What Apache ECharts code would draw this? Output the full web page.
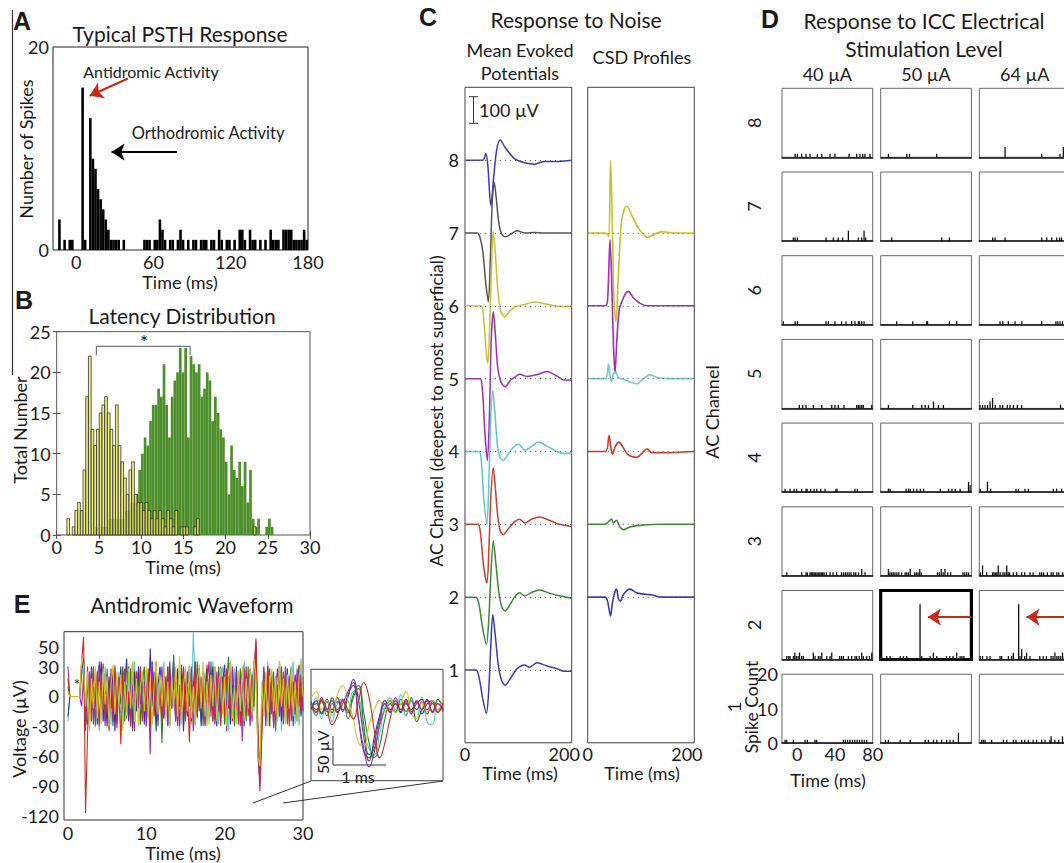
<!DOCTYPE html>
<html><head><meta charset="utf-8">
<script src="https://cdn.jsdelivr.net/npm/echarts@6/dist/echarts.min.js"></script>
<style>html,body{margin:0;padding:0;background:#fff}#c{width:1064px;height:863px}</style>
</head><body><div id="c"></div>
<script>
// ---------------- DATA ----------------
// Panel A: PSTH (2 ms bins starting at -16 ms)
const psthStart = -16, psthBin = 2;
const psthCounts = [
0,3,0,1,0,1,1,0,0,0,
16,1,0,13,9,8,6,5,4,3,
2,1,1,1,1,0,1,0,0,0,
0,0,0,0,1,1,1,0,1,1,
3,2,1,0,1,1,0,1,2,1,
0,1,0,1,1,0,1,1,1,0,
1,1,0,2,1,0,1,1,0,1,
0,2,2,1,0,2,1,1,0,1,
0,1,0,2,1,1,1,0,2,2,
2,2,1,1,1,1,2,1];
const psthTicks = [0, 60, 120, 180];

// Panel B: latency distributions (0.32 ms bins)
const latBin = 0.32;
const antiStart = 1.2;
const antiCounts = [
2,0,1,3,4,3,8,17,22,13,
11,13,15,16,17,15,13,11,16,11,
9,7,5,8,9,5,4,4,3,4,
3,2,3,2,3,2,1,3,2,1,
3,0,1,1,1,0,0,1,2,0,
0,0,0,0,0,0,0,0,0,0,
0,0,0,0,0,0,0,0,0,1];
const orthoStart = 4.55;
const orthoCounts = [
1,0,1,1,1,2,2,2,2,2,2,3,3,4,4,5,
8,10,12,11,14,16,16,18,17,21,16,12,17,19,20,23,20,23,12,22,
21,20,21,17,18,20,19,14,17,15,13,12,9,5,11,8,7,9,6,9,
4,8,2,1,2,0,0,1,2,1];
const latBracket = [[4.7, 22.1], [4.7, 23.2], [15.8, 23.2], [15.8, 22.1]];

// Panel E: antidromic waveforms (0.25 ms samples, µV)
const eStep = 0.25;
const eTicksY = [-120, -90, -60, -30, 0, 30, 50];
const eRed = [
18,0,0,0,0,0,0,35,60,-117,
-40,20,-25,30,-10,25,-30,15,33,-20,
10,-35,22,-15,30,-28,12,-48,20,28,
-22,5,-30,35,-18,25,-12,30,-25,10,
-5,28,-32,18,-20,35,-15,8,-25,20,
-10,30,-22,15,-8,25,-30,12,-18,30,
-25,10,-46,20,-12,35,-20,25,-15,10,
-28,32,-10,18,-25,30,-5,20,-30,15,
-20,28,-12,35,-25,10,-18,25,-30,22,
-10,30,-20,15,-25,20,55,-30,-90,-40,
25,-15,30,-10,20,-28,15,-22,30,-12,
25,-20,10,-30,28,-15,20,-10,25,-18,
15];
const eBlue = [
-20,0,0,0,0,0,0,25,38,-30,
15,-20,30,-15,22,-28,10,35,-25,5,
-30,20,-12,28,-35,15,-5,30,-20,12,
38,-25,10,-32,25,-15,30,-8,20,-28,
15,-20,48,-10,25,-35,12,30,-15,-22,
20,-30,35,-12,18,-25,28,-10,22,-35,
15,-20,30,-25,10,35,-18,20,-30,12,
-15,28,-22,10,30,-12,-30,25,-20,15,
32,-18,20,-28,12,-10,30,-22,15,25,
-30,18,-12,28,-20,35,40,-60,-85,-20,
30,-22,12,-30,25,-10,20,-15,35,-25,
10,-20,28,-12,18,-30,22,-8,30,-20,
10];
const eGreen = [
10,0,0,0,0,0,0,30,35,-20,
-28,25,-15,10,-30,20,32,-18,12,-25,
28,-10,18,-30,25,-20,15,-8,30,-25,
12,-18,28,-35,20,-10,25,-28,15,30,
-20,10,-25,35,-12,22,-30,18,-47,20,
-15,30,-25,12,42,-20,25,-10,32,-28,
18,-12,30,-22,10,-28,35,-15,20,-30,
12,28,-18,35,-25,15,-10,30,-22,20,
-28,12,40,-15,25,-30,18,-12,28,-20,
15,-25,30,-18,22,-10,50,-45,-80,-15,
20,-30,15,28,-18,25,-35,12,-20,30,
-12,22,-28,15,30,-20,10,-25,32,-15,
20];
const eCyan = [
-25,0,0,0,0,0,0,20,30,-15,
22,-30,12,28,-18,25,-35,15,-10,30,
-22,18,-28,10,32,-15,25,-30,20,-8,
28,-20,15,-25,35,-12,20,-28,10,25,
-30,18,-12,30,-20,15,-25,28,-10,35,
-18,22,-30,12,28,-22,18,-35,25,-15,
30,-12,20,-28,65,15,-20,32,-25,10,
25,-30,18,-15,35,-22,12,-28,20,30,
-15,25,-35,18,-10,28,-22,15,-30,20,
35,-18,12,-28,25,-15,45,-40,-75,-10,
28,-20,35,-12,22,-30,15,-25,30,-35,
20,-15,28,-22,12,35,-28,18,-30,38,
-20];
const ePurple = [
30,0,0,0,0,0,0,-10,20,-35,
30,-15,25,-28,12,-20,35,-10,18,-30,
22,-12,28,-25,15,-32,20,10,-28,25,
-15,30,-20,12,-35,25,-10,28,-18,15,
-30,20,-58,35,-15,25,-22,10,30,-20,
15,-28,22,-12,35,-25,18,-30,12,28,
-18,25,-10,30,-35,15,-22,28,-12,20,
-30,12,35,-20,18,-28,25,-15,30,-10,
22,-35,15,-20,30,-12,25,-28,18,-45,
28,-15,20,-30,12,25,58,-50,-95,-30,
18,-25,30,-15,22,-32,10,28,-20,15,
-28,30,-12,20,-25,15,-18,28,-10,22,
-15];
const eYellow = [
5,0,0,0,0,0,0,38,30,-10,
25,-35,18,-12,30,-22,15,-28,28,-8,
20,-30,12,32,-18,25,-10,22,-35,15,
-20,28,-12,35,-25,18,-30,10,25,-15,
30,-22,15,-28,12,35,-18,22,-10,28,
-25,15,-32,20,-12,30,-20,40,-28,12,
25,-15,30,-22,10,-30,18,28,-12,35,
-20,15,-28,22,-10,30,-25,12,28,-18,
20,-30,15,35,-22,10,-28,25,-15,30,
-25,18,-12,28,-20,38,20,-60,-70,15,
-20,25,-30,12,28,-15,20,-25,35,-10,
18,-28,22,-12,30,-20,15,-25,20,35,
0];
// Inset (0.1 ms samples, µV)
const insetStep = 0.1;
const insRed    = [5,-8,12,-5,-30,-15,10,-5,-20,10,40,15,-40,-85,-60,-20,5,-5,10,-8,5,12,-5,8,-10,5];
const insBlue   = [-5,10,-12,8,-10,15,-8,20,35,-20,-75,-85,-50,-15,10,-8,5,-10,12,-5,8,-12,5,10,-5,8];
const insGreen  = [10,-5,8,-15,5,-10,12,-20,15,30,-30,-80,-70,-30,-5,10,-10,5,-8,15,-25,-5,10,-8,12,-5];
const insCyan   = [-12,15,-20,10,-25,5,12,-8,25,20,-40,-70,-80,-45,0,15,-5,20,-15,10,-20,15,-25,-30,10,5];
const insPurple = [8,-10,15,-5,10,-8,5,25,40,-20,-70,-100,-75,-30,5,-10,15,-5,8,-12,10,-5,12,-10,5,-8];
const insYellow = [15,25,-5,10,-15,20,35,10,-20,-60,-65,-30,-5,10,-8,15,-10,5,25,-10,-20,5,-8,10,-5,12];
const insGray   = [0,5,-10,12,-5,8,-5,15,45,10,-50,-90,-60,-20,5,-5,10,-8,5,-10,8,-5,10,-8,5,-5];
const insGreen2 = [5,-15,10,-8,15,-5,10,-10,20,35,-10,-60,-85,-65,-20,5,-8,12,-15,10,-5,8,-12,5,-8,10];

// Panel C: mean evoked potentials and CSD ([ms, µV])
const uvPerChannel = 272.5;
const channels = [1,2,3,4,5,6,7,8];
const mep8 = [[0,0],[36,0],[42,25],[46,-20],[52,-170],[58,-60],[64,40],[71,75],[80,50],[90,25],[100,5],[120,-10],[140,-15],[160,-5],[180,-5],[200,-3],[215,0]];
const mep7 = [[0,0],[25,0],[30,-15],[36,-70],[42,-190],[47,-258],[51,-100],[55,120],[59,190],[63,130],[68,40],[74,-5],[81,-14],[92,-5],[105,8],[120,0],[140,2],[160,0],[200,0],[215,0]];
const mep6 = [[0,0],[32,0],[38,-60],[43,-180],[46,-215],[50,-60],[54,180],[57,277],[61,200],[66,60],[72,-20],[80,-41],[90,-20],[100,-5],[120,5],[140,14],[160,8],[180,0],[200,-3],[215,0]];
const mep5 = [[0,0],[30,0],[35,-40],[40,-200],[45,-307],[49,-150],[53,150],[57,250],[61,170],[66,40],[73,-15],[81,-30],[92,-5],[100,5],[110,16],[125,8],[145,15],[165,27],[185,10],[200,-5],[215,-5]];
const mep4 = [[0,0],[28,0],[33,-40],[38,-180],[44,-272],[48,-120],[52,130],[56,228],[60,150],[65,30],[70,-20],[77,-33],[87,-10],[97,15],[108,27],[121,5],[135,20],[148,35],[165,20],[185,0],[200,-8],[215,-5]];
const mep3 = [[0,0],[26,0],[31,-30],[37,-150],[44,-220],[48,-100],[52,100],[57,212],[61,140],[66,30],[71,-25],[77,-38],[88,-15],[100,10],[110,19],[120,5],[135,20],[150,27],[170,15],[190,0],[215,-8]];
const mep2 = [[0,0],[22,0],[28,-25],[35,-110],[43,-177],[48,-80],[52,80],[57,210],[62,130],[68,20],[74,-35],[81,-52],[90,-30],[100,0],[110,16],[120,5],[135,18],[150,27],[170,15],[190,5],[215,-5]];
const mep1 = [[0,0],[22,0],[28,-25],[36,-110],[43,-163],[48,-70],[52,90],[56,207],[61,130],[67,20],[74,-40],[81,-57],[92,-30],[105,5],[120,19],[130,10],[145,27],[165,15],[185,5],[200,-5],[215,-5]];
const csd7 = [[0,0],[35,0],[40,-5],[43,-15],[46,272],[49,100],[53,-250],[57,-332],[62,-150],[68,40],[74,90],[79,100],[88,70],[100,25],[110,0],[120,-16],[135,-5],[150,5],[170,0],[200,0],[215,0]];
const csd6 = [[0,0],[35,0],[40,20],[45,248],[49,50],[52,-150],[55,-253],[59,-120],[64,-10],[70,20],[76,45],[82,54],[92,30],[105,10],[120,0],[150,0],[215,0]];
const csd5 = [[0,0],[36,0],[42,55],[45,10],[48,-10],[52,20],[56,25],[62,5],[75,-5],[90,-15],[100,-19],[112,0],[125,14],[140,5],[160,0],[215,0]];
const csd4 = [[0,0],[36,0],[43,60],[47,10],[50,-10],[56,20],[63,35],[70,20],[80,-10],[90,-20],[100,-22],[110,-5],[120,10],[130,-5],[150,-5],[215,0]];
const csd3 = [[0,0],[35,0],[42,10],[48,20],[52,5],[58,15],[65,-10],[72,-20],[85,-10],[100,-5],[150,0],[215,0]];
const csd2 = [[0,0],[35,0],[40,-15],[46,-70],[50,-20],[55,20],[58,30],[62,-5],[66,-15],[72,10],[85,30],[100,15],[120,10],[130,8],[150,0],[215,0]];

// Panel D: spike times (ms) per channel (index 0 = channel 1); [t, count] when count > 1
const dLevels = ['40 µA', '50 µA', '64 µA'];
const d40 = [
 [-12.8,-11,-4,8.3,10.8,18.9,20.7,48.9,51,53.5,56,58.5,61,63.5,66,68.5,71,73.6],
 [-11,-9,-7.5,-4,[-2.5,2],-1,1,[2.5,2],4.8,6.6,[17.1,2],18.9,22.4,24.2,[26,2],31.3,34.8,[36.6,2],45,47,48.9,54.2,57.7,61.2,63,65.8,[68.3,2],70,73.6,76.5,[79,2]],
 [-11,4.8,9.4,10.8,13.6,15,16.5,18,19.5,21,22.5,24,25.5,27,28.5,31,34.8,38,41.8,46.9,49,51,53,55,57,60,62,65,[68.3,2],71.8],
 [-12.8,-7.5,-3.3,-0.5,4.8,9.4,10.5,14.3,17.9,20.7,24.9,29.5,41.1,42.2,61.2,63.7],
 [2.3,5.9,9.4,17,26,36.6,40,43.6,49.6,63,64.8,66.5,68.3,70,78.9],
 [-14.6,-2.2,0.2,30.5,33,40,47,51.7,57.7,61.2,64.8,66,68.3,70.8],
 [-4,-2.2,0.2,30.5,38.3,43.6,48.2,[54.2,3],64.8,68.3,[70.8,3],72.5],
 [-2.2,0.2,4.8,9.4,13.6,21.4,26,34.8,40,54.9,63,66.5,69.4,71.8,77]];
const d50 = [
 [-11,-7.9,4.5,15.2,31,34.5,39.8,43.3,48.5,53.8,57.3,60.8,[66.2,3]],
 [-9.6,-6.2,4.5,8,11.5,[25.6,16],27.4,36.2,[39.7,2],43.3,53.5,57,60.5,[64.4,2],68,70,72],
 [[-7.9,2],-6.2,-4.5,-2.8,-1,1,3,6,9.8,11.5,13.3,[15.2,2],20,21.8,23.5,[25.3,2],27,44,46,[48,2],50,[52,2],55,58,71,73,75,77],
 [-7.9,-6.2,10.9,13.4,15.2,18.7,22.2,25.8,29.3,46.9,55.8,59.3,62.8,68,[76.9,3],[78.6,2]],
 [-7.9,17.9,27.4,31,34.5,[39.8,2],45,50.3],
 [0.9,17.9,32.7,33.5,56.7,64.4],
 [-4.4,48.5,56.7],
 [-7.9,11.5,14.4,43.3]];
const d64 = [
 [-13.5,-11.8,-10,-3,9.4,13,20,22.8,28.8,32,35.8,41,44.6,50,53.5,58.6,[60,2],64,68,[72,2],76],
 [-15,-12.6,-8,-4.6,5.9,7.6,14.7,18.2,[20,2],[25.6,16],27,[28.8,3],32,[34,2],37.6,48,51.6,55,60,62,[64,2],66,68,70,[72,2],74,76],
 [-15,[-12.6,3],-8.2,-2,-0.5,1,2.5,[4,3],6,9,11,[13,3],14.5,16,20,23.5,28.8,32,37.6,41,48,50,52,56,60,62,66,68,72,74,77],
 [-15,[-7.4,3],-4,22.8,25.3,32.3,35.8,62.3,65.8,71,76],
 [-15.3,-12.6,-10,-7.3,[-4.7,2],[-2,3],0.8,5.9,8.7,13.6,16.4,20,24.2,28.8,70,78],
 [5.9,8.8,14.7,21.8,28.9,50,65,67,69.4,72],
 [-1.9,0.6,11.2,50,55.3,60.6,65.9,69,71],
 [[11.2,3],50,69.4,[72.9,3],78]];
const dTicksX = [0, 40, 80];
const dTicksY = [0, 10, 20];
const dArrowY = 12.3, dArrowFrom = 80, dArrowTo = 34;

// ---------------- BUILD ----------------
const font = 'Lato';
const ink = '#1a1a1a';
const TITLE = 21, LABEL = 18;
const grids = [], xAxis = [], yAxis = [], series = [], graphic = [];
const lab = (size) => ({ fontFamily: font, fontSize: size || LABEL, color: ink });

function addGrid(left, top, width, height, color, bw) {
  grids.push({ left, top, width, height, show: true, borderColor: color || '#333', borderWidth: bw || 1,
    backgroundColor: 'rgba(0,0,0,0)', containLabel: false, outerBoundsMode: 'none' });
  return grids.length - 1;
}
function addAxis(list, gi, min, max, labels, extra, margin) {
  const a = Object.assign({ type: 'value', gridIndex: gi, min, max, axisLine: { show: false },
    splitLine: { show: false }, axisTick: { show: false },
    axisLabel: labels ? Object.assign({ show: true, customValues: labels, margin: margin == null ? 5 : margin }, lab()) : { show: false } }, extra || {});
  list.push(a); return list.length - 1;
}
function histSeries(xi, yi, start, bin, counts, style) {
  const data = counts.map((c, i) => [start + i * bin, c]);
  return { type: 'custom', xAxisIndex: xi, yAxisIndex: yi, data, silent: true, animation: false,
    renderItem(params, api) {
      const s = api.value(0), c = api.value(1);
      if (!c) return null;
      const p0 = api.coord([s, 0]), p1 = api.coord([s + bin, c]);
      return { type: 'rect', shape: { x: p0[0], y: p1[1], width: p1[0] - p0[0], height: p0[1] - p1[1] }, style };
    } };
}
function spikeSeries(xi, yi, list) {
  const data = list.map(v => Array.isArray(v) ? v : [v, 1]);
  return { type: 'custom', xAxisIndex: xi, yAxisIndex: yi, data, silent: true, animation: false,
    renderItem(params, api) {
      const t = api.value(0), c = api.value(1);
      const p0 = api.coord([t, 0]), p1 = api.coord([t, c]);
      return { type: 'rect', shape: { x: p0[0] - 0.6, y: p1[1], width: 1.3, height: p0[1] - p1[1] }, style: { fill: '#111' } };
    } };
}
function lineSeries(xi, yi, data, color, width, extra) {
  return Object.assign({ type: 'line', xAxisIndex: xi, yAxisIndex: yi, data, showSymbol: false, symbol: 'none',
    lineStyle: { color, width: width || 1.1 }, animation: false, silent: true }, extra || {});
}
function arrow(xi, yi, from, to, color, width, size) {
  series.push({ type: 'lines', coordinateSystem: 'cartesian2d', xAxisIndex: xi, yAxisIndex: yi, silent: true, animation: false,
    symbol: ['none', 'arrow'], symbolSize: size || 12, z: 6,
    lineStyle: { color, width: width || 2, opacity: 1, curveness: 0 },
    data: [{ coords: [from, to] }] });
}
function txt(x, y, s, o) {
  o = o || {};
  const f = (o.bold ? 'bold ' : '') + (o.size || LABEL) + 'px ' + (o.family || font);
  graphic.push({ type: 'text', x, y, rotation: o.rot || 0, silent: true, z: 20,
    style: { text: s, x: 0, y: 0, fill: o.color || ink, font: f,
      align: o.align || 'center', verticalAlign: 'middle', textAlign: o.align || 'center', textVerticalAlign: 'middle' } });
}
function gline(points, color, width) {
  graphic.push({ type: 'polyline', silent: true, z: 20, shape: { points }, style: { stroke: color || '#333', lineWidth: width || 1, fill: null } });
}
const R = Math.PI / 2;

// ---- Panel A
{
  const gi = addGrid(53, 47, 255, 203, '#222');
  const xi = addAxis(xAxis, gi, -18, 180, psthTicks, null, 3);
  const yi = addAxis(yAxis, gi, 0, 20, [0, 20], null, 4);
  series.push(histSeries(xi, yi, psthStart, psthBin, psthCounts, { fill: '#000' }));
  arrow(xi, yi, [40.2, 16.9], [10.5, 15.2], '#c62a1f', 2, 13);
  arrow(xi, yi, [78.3, 9.65], [27.5, 9.65], '#000', 2, 13);
  txt(180, 33, 'Typical PSTH Response', { size: TITLE });
  txt(151, 71, 'Antidromic Activity', { size: 16 });
  txt(208, 133, 'Orthodromic Activity', { size: 16.5 });
  txt(26, 149, 'Number of Spikes', { rot: R });
  txt(180, 282, 'Time (ms)');
  txt(22, 21, 'A', { bold: true, size: 25, family: 'Liberation Sans' });
  gline([[12.5, 10], [12.5, 375]], '#333', 1.2);
}
// ---- Panel B
{
  const gi = addGrid(56.7, 331.7, 253.3, 203.3, '#555');
  const tick = { show: true, inside: true, length: 4, lineStyle: { color: '#555' } };
  const xi = addAxis(xAxis, gi, 0, 30, null, { interval: 5, axisTick: tick, axisLabel: Object.assign({ show: true, margin: 3 }, lab()) });
  const yi = addAxis(yAxis, gi, 0, 25, null, { interval: 5, axisTick: tick, axisLabel: Object.assign({ show: true, margin: 6 }, lab()) });
  addAxis(xAxis, gi, 0, 30, null, { position: 'top', interval: 5, axisTick: tick });
  addAxis(yAxis, gi, 0, 25, null, { position: 'right', interval: 5, axisTick: tick });
  series.push(histSeries(xi, yi, orthoStart, latBin, orthoCounts, { fill: '#4d8f2b' }));
  series.push(histSeries(xi, yi, antiStart, latBin, antiCounts, { fill: 'rgba(236,236,80,0.72)', stroke: '#333', lineWidth: 0.8 }));
  series.push({ type: 'lines', coordinateSystem: 'cartesian2d', xAxisIndex: xi, yAxisIndex: yi, polyline: true, silent: true, animation: false,
    lineStyle: { color: '#777', width: 1.2, opacity: 1 }, data: [{ coords: latBracket }] });
  txt(144, 341, '*', { size: 19 });
  txt(182, 315, 'Latency Distribution', { size: TITLE });
  txt(20, 430, 'Total Number', { rot: R });
  txt(183, 567, 'Time (ms)');
  txt(24, 300, 'B', { bold: true, size: 25, family: 'Liberation Sans' });
}
// ---- Panel E
{
  const gi = addGrid(64, 631.7, 239, 188.3, '#333');
  const xi = addAxis(xAxis, gi, -0.5, 30, [0, 10, 20, 30], null, 4);
  const yi = addAxis(yAxis, gi, -124, 65, eTicksY, null, 5);
  const traces = [[eCyan, '#5ec8c8'], [eGreen, '#2f7f2f'], [eBlue, '#3434b0'], [ePurple, '#a524b8'], [eRed, '#d42a1e'], [eYellow, '#c9c92a']];
  traces.forEach(([arr, col]) => series.push(lineSeries(xi, yi, arr.map((v, i) => [i * eStep, v]), col, 1.1)));
  txt(77, 684, '*', { size: 15 });
  txt(192, 604, 'Antidromic Waveform', { size: TITLE });
  txt(19, 729, 'Voltage (µV)', { rot: R });
  txt(183, 853, 'Time (ms)');
  txt(22, 604, 'E', { bold: true, size: 25, family: 'Liberation Sans' });
  // inset
  const gj = addGrid(311, 669.3, 132, 111.4, '#444');
  const xj = addAxis(xAxis, gj, 0, 2.5, null);
  const yj = addAxis(yAxis, gj, -123, 62, null);
  const ins = [[insGreen2, '#2f7f2f'], [insCyan, '#5ec8c8'], [insGreen, '#2f7f2f'], [insBlue, '#3434b0'], [insGray, '#555555'], [insYellow, '#c9c92a'], [insPurple, '#a524b8'], [insRed, '#d42a1e']];
  ins.forEach(([arr, col]) => series.push(lineSeries(xj, yj, arr.map((v, i) => [i * insetStep, v]), col, 1.1, { smooth: 0.5 })));
  gline([[253, 803], [311, 781]], '#333', 1);
  gline([[283, 803], [443, 781]], '#333', 1);
  gline([[333, 736], [333, 765], [386, 765]], '#333', 1);
  txt(322, 752, '50 µV', { rot: R, size: 16 });
  txt(358, 776, '1 ms', { size: 16 });
}
// ---- Panel C
{
  const mepColors = { 8: '#3a3ab8', 7: '#555555', 6: '#c3c32a', 5: '#a22db5', 4: '#62c6c6', 3: '#d03a2a', 2: '#3a8a33', 1: '#3a3ab8' };
  const mep = { 1: mep1, 2: mep2, 3: mep3, 4: mep4, 5: mep5, 6: mep6, 7: mep7, 8: mep8 };
  const csd = { 2: csd2, 3: csd3, 4: csd4, 5: csd5, 6: csd6, 7: csd7 };
  const csdColors = { 7: '#c3c32a', 6: '#a22db5', 5: '#70cccc', 4: '#d03a2a', 3: '#3a8a33', 2: '#3a3ab8' };
  const dotted = (ch) => ({ symbol: ['none', 'none'], silent: true, animation: false, label: { show: false },
    lineStyle: { type: [1, 4], color: '#666', width: 1 }, data: [{ yAxis: ch }] });
  const g1 = addGrid(465, 87.3, 106.7, 655.5, '#444');
  const x1 = addAxis(xAxis, g1, 0, 215, [0, 200], null, 2);
  const y1 = addAxis(yAxis, g1, 0, 9, channels, null, 6);
  channels.slice().reverse().forEach(ch => {
    series.push(lineSeries(x1, y1, mep[ch].map(([t, v]) => [t, ch + v / uvPerChannel]), mepColors[ch], 1.5,
      { smooth: 0.3, markLine: dotted(ch) }));
  });
  const g2 = addGrid(587.7, 87.3, 106.6, 655.5, '#444');
  const x2 = addAxis(xAxis, g2, 0, 215, [0, 200], null, 2);
  const y2 = addAxis(yAxis, g2, 0, 9, null);
  [7, 6, 5, 4, 3, 2].forEach(ch => {
    series.push(lineSeries(x2, y2, csd[ch].map(([t, v]) => [t, ch + v / uvPerChannel]), csdColors[ch], 1.6,
      { smooth: 0.3, markLine: dotted(ch) }));
  });
  gline([[473.5, 96.7], [473.5, 123.3]], '#333', 1);
  gline([[469, 96.7], [478, 96.7]], '#333', 1);
  gline([[469, 123.3], [478, 123.3]], '#333', 1);
  txt(479, 110, '100 µV', { align: 'left' });
  txt(428, 17, 'C', { bold: true, size: 25, family: 'Liberation Sans' });
  txt(576, 19, 'Response to Noise', { size: TITLE });
  txt(520, 50, 'Mean Evoked');
  txt(520, 73, 'Potentials');
  txt(642, 57, 'CSD Profiles');
  txt(436, 411, 'AC Channel (deepest to most superficial)', { rot: R, size: 17.5 });
  txt(520, 773, 'Time (ms)');
  txt(642, 773, 'Time (ms)');
  txt(712, 412, 'AC Channel', { rot: R });
}
// ---- Panel D
{
  const colLeft = [782, 880.7, 979.3], colW = 90.7, rowH = 69;
  const dData = [d40, d50, d64];
  dData.forEach((col, c) => {
    for (let ch = 1; ch <= 8; ch++) {
      const top = 88.3 + (8 - ch) * 83.7;
      const special = (c === 1 && ch === 2);
      const gi = addGrid(colLeft[c], top, colW, rowH, special ? '#000' : '#666', special ? 3.2 : 1);
      const withLabels = (c === 0 && ch === 1);
      const xi = addAxis(xAxis, gi, -16, 80, withLabels ? dTicksX : null,
        { axisLine: { show: true, onZero: false, lineStyle: { color: '#111', width: special ? 3.2 : 1.5 } } }, 2);
      const yi = addAxis(yAxis, gi, 0, 20, withLabels ? dTicksY : null, null, 4);
      series.push(spikeSeries(xi, yi, col[ch - 1]));
      if (ch === 2 && c > 0) arrow(xi, yi, [dArrowFrom, dArrowY], [dArrowTo, dArrowY], '#c62a1f', 2, 13);
    }
  });
  txt(770, 19, 'D', { bold: true, size: 25, family: 'Liberation Sans' });
  txt(924, 20, 'Response to ICC Electrical', { size: TITLE });
  txt(924, 48, 'Stimulation Level', { size: TITLE });
  dLevels.forEach((s, c) => txt(colLeft[c] + colW / 2, 74, s));
  for (let ch = 2; ch <= 8; ch++) txt(754, 88.3 + (8 - ch) * 83.7 + rowH / 2, String(ch), { rot: R });
  txt(734, 707, '1', { rot: R });
  txt(751, 707, 'Spike Count', { rot: R, size: 17.5 });
  txt(828, 780, 'Time (ms)');
}

const chart = echarts.init(document.getElementById('c'), null, { renderer: 'svg', width: 1064, height: 863 });
chart.setOption({ animation: false, backgroundColor: '#fff', textStyle: { fontFamily: font },
  grid: grids, xAxis, yAxis, series, graphic: { elements: graphic } });
</script>
</body></html>
